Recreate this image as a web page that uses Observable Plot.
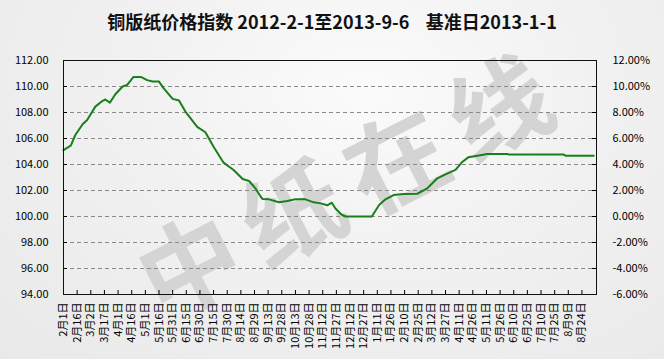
<!DOCTYPE html>
<html><head><meta charset="utf-8">
<script src="https://cdn.jsdelivr.net/npm/d3@7"></script>
<script src="https://cdn.jsdelivr.net/npm/@observablehq/plot@0.6"></script>
<style>
html,body{margin:0;padding:0;}
body{width:664px;height:359px;overflow:hidden;position:relative;
  background:radial-gradient(ellipse at 55% 25%, #fbfbfb 0%, #f1f1f1 45%, #e9e9e9 100%);
  font-family:"Noto Sans CJK SC","Noto Sans",sans-serif;}
#title{position:absolute;top:9px;left:0;width:664px;text-align:center;font-size:18px;font-weight:bold;color:#111;white-space:pre;line-height:24px;}
#wm{position:absolute;left:102px;top:122px;width:480px;height:120px;line-height:120px;text-align:center;font-size:100px;font-weight:bold;letter-spacing:16px;color:#d4d4d4;transform:rotate(-27deg) translateX(8px);white-space:nowrap;}
#chart{position:absolute;left:0;top:0;}
</style></head>
<body>
<div id="wm">中纸在线</div>
<div id="title">铜版纸价格指数 2012-2-1至2013-9-6    基准日2013-1-1</div>
<div id="chart"></div>
<script>
const dates = ["2012-02-01","2012-02-09","2012-02-14","2012-02-22","2012-02-27","2012-03-07","2012-03-15","2012-03-18","2012-03-23","2012-03-29",
  "2012-04-06","2012-04-11","2012-04-18","2012-04-26","2012-05-03","2012-05-09","2012-05-16","2012-05-21","2012-05-31","2012-06-07",
  "2012-06-14","2012-06-27","2012-07-06","2012-07-15","2012-07-26","2012-08-06","2012-08-16","2012-08-23","2012-08-30","2012-09-05",
  "2012-09-07","2012-09-14","2012-09-25","2012-10-04","2012-10-13","2012-10-24","2012-11-02","2012-11-10","2012-11-17","2012-11-22",
  "2012-11-26","2012-12-02","2012-12-07","2013-01-05","2013-01-13","2013-01-20","2013-01-29","2013-02-09","2013-02-24","2013-03-07",
  "2013-03-18","2013-03-27","2013-04-07","2013-04-14","2013-04-21","2013-05-01","2013-05-12","2013-06-03","2013-06-05","2013-08-04",
  "2013-08-06","2013-09-06"];
const values = [105.10,105.45,106.27,107.10,107.43,108.45,108.90,109.00,108.76,109.40,
  110.00,110.12,110.74,110.74,110.49,110.38,110.38,109.87,109.05,108.92,
  108.07,106.90,106.48,105.37,104.14,103.58,102.88,102.73,102.17,101.50,
  101.34,101.32,101.09,101.19,101.32,101.32,101.09,101.01,100.86,101.06,
  100.62,100.19,100.00,100.00,100.88,101.32,101.65,101.73,101.75,102.17,
  102.94,103.24,103.58,104.17,104.55,104.68,104.81,104.81,104.76,104.76,
  104.68,104.68];
const tickDateStrings = ["2012-02-01","2012-02-16","2012-03-02","2012-03-17","2012-04-01","2012-04-16","2012-05-01","2012-05-16","2012-05-31","2012-06-15",
  "2012-06-30","2012-07-15","2012-07-30","2012-08-14","2012-08-29","2012-09-13","2012-09-28","2012-10-13","2012-10-28","2012-11-12",
  "2012-11-27","2012-12-12","2012-12-27","2013-01-11","2013-01-26","2013-02-10","2013-02-25","2013-03-12","2013-03-27","2013-04-11",
  "2013-04-26","2013-05-11","2013-05-26","2013-06-10","2013-06-25","2013-07-10","2013-07-25","2013-08-09","2013-08-24"];
const tickLabels = ["2月1日","2月16日","3月2日","3月17日","4月1日","4月16日","5月1日","5月16日","5月31日","6月15日",
  "6月30日","7月15日","7月30日","8月14日","8月29日","9月13日","9月28日","10月13日","10月28日","11月12日",
  "11月27日","12月12日","12月27日","1月11日","1月26日","2月10日","2月25日","3月12日","3月27日","4月11日",
  "4月26日","5月11日","5月26日","6月10日","6月25日","7月10日","7月25日","8月9日","8月24日"];
const yTicks = [94,96,98,100,102,104,106,108,110,112];
const gridTicks = [96,98,100,102,104,106,108,110];

const data = dates.map((d,i)=>({date:new Date(d), value:values[i]}));
const tickDates = tickDateStrings.map(d=>new Date(d));
const labelMap = new Map(tickDates.map((d,i)=>[+d, tickLabels[i]]));

const W=664,H=359,mL=63,mR=68,mT=60,mB=65;
const plotW=W-mL-mR, plotH=H-mT-mB;
const chart = Plot.plot({
  width:W, height:H, marginLeft:mL, marginRight:mR, marginTop:mT, marginBottom:mB,
  style:{background:"transparent", fontFamily:"'Noto Sans CJK SC','Noto Sans',sans-serif", fontSize:"11px", color:"#000"},
  x:{type:"utc", domain:[new Date("2012-02-01"), new Date("2013-09-09")]},
  y:{domain:[94,112]},
  marks:[
    Plot.gridY(gridTicks, {stroke:"#8a8a8a", strokeOpacity:1, strokeDasharray:"4,3"}),
    Plot.tickY(yTicks, {y:d=>d, insetRight:plotW-4, stroke:"#000"}),
    Plot.tickY(yTicks, {y:d=>d, insetLeft:plotW-4, stroke:"#000"}),
    Plot.tickX(tickDates, {x:d=>d, insetTop:plotH-4, stroke:"#000"}),
    Plot.axisY({anchor:"left", ticks:yTicks, tickFormat:d=>d.toFixed(2), tickSize:0, tickPadding:15, label:null, fontSize:11}),
    Plot.axisY({anchor:"right", ticks:yTicks, tickFormat:d=>(d-100).toFixed(2)+"%", tickSize:0, tickPadding:16, label:null, fontSize:11}),
    Plot.axisX({ticks:tickDates, tickFormat:d=>labelMap.get(+d), tickRotate:-90, tickSize:0, tickPadding:8, label:null, fontSize:11}),
    Plot.line(data, {x:"date", y:"value", stroke:"#1a7f1a", strokeWidth:2}),
    Plot.frame({stroke:"#111"})
  ]
});
document.getElementById("chart").appendChild(chart);
</script>
</body></html>
